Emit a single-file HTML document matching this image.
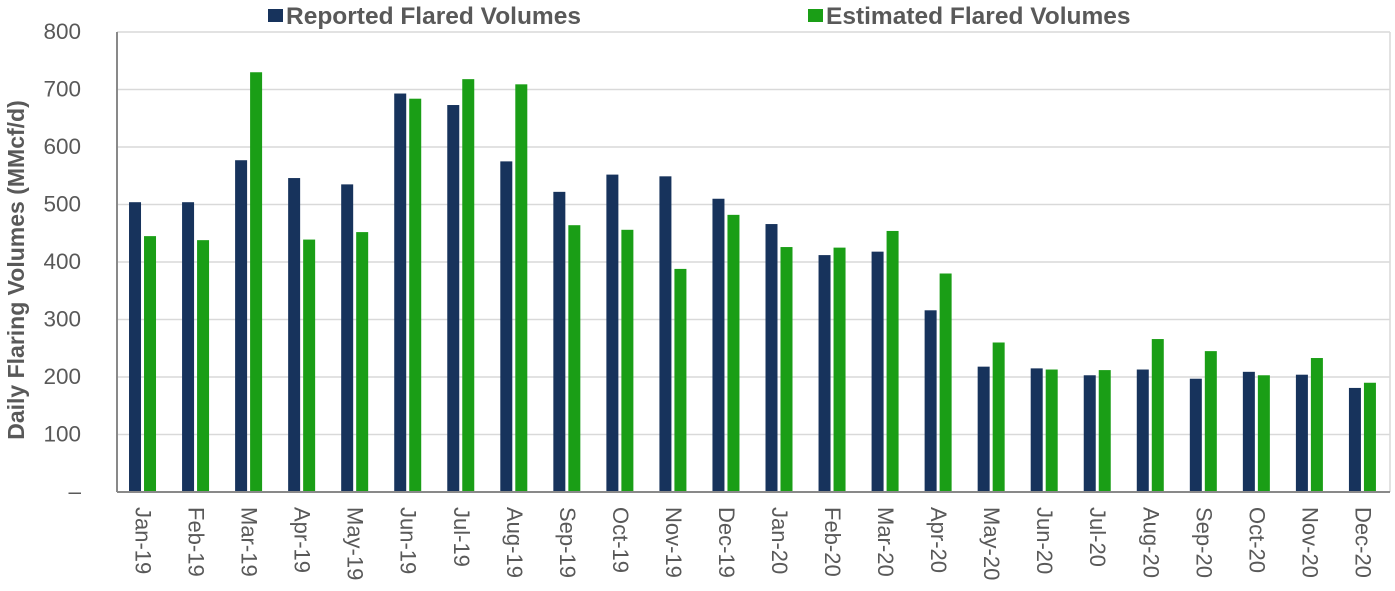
<!DOCTYPE html>
<html><head><meta charset="utf-8"><style>
body{margin:0;background:#fff;}
svg{display:block;font-family:"Liberation Sans",Arial,sans-serif;}
</style></head><body>
<svg width="1395" height="591" viewBox="0 0 1395 591" xmlns="http://www.w3.org/2000/svg">
<g stroke="#d9d9d9" stroke-width="1.5">
<line x1="117" x2="1390" y1="32" y2="32"/>
<line x1="117" x2="1390" y1="89.5" y2="89.5"/>
<line x1="117" x2="1390" y1="147" y2="147"/>
<line x1="117" x2="1390" y1="204.5" y2="204.5"/>
<line x1="117" x2="1390" y1="262" y2="262"/>
<line x1="117" x2="1390" y1="319.5" y2="319.5"/>
<line x1="117" x2="1390" y1="377" y2="377"/>
<line x1="117" x2="1390" y1="434.5" y2="434.5"/>
<line x1="1390" x2="1390" y1="32" y2="492"/>
</g>
<g id="bars"></g>
<line x1="117" x2="117" y1="32" y2="492" stroke="#898989" stroke-width="2"/>
<line x1="117" x2="1390" y1="492" y2="492" stroke="#898989" stroke-width="2"/>
<g font-size="22.5" fill="#595959" text-anchor="end">
<text x="81" y="39">800</text><text x="81" y="96.5">700</text><text x="81" y="154">600</text>
<text x="81" y="211.5">500</text><text x="81" y="269">400</text><text x="81" y="326.5">300</text>
<text x="81" y="384">200</text><text x="81" y="441.5">100</text><text x="81" y="499">–</text>
</g>
<text transform="translate(24,270) rotate(-90)" text-anchor="middle" font-size="23" font-weight="bold" fill="#595959">Daily Flaring Volumes (MMcf/d)</text>
<rect x="268" y="9" width="15" height="13" fill="#17335c"/>
<text x="286" y="24" font-size="24.5" font-weight="bold" fill="#595959">Reported Flared Volumes</text>
<rect x="808" y="9" width="15" height="13" fill="#1a9e16"/>
<text x="826" y="24" font-size="24.5" font-weight="bold" fill="#595959">Estimated Flared Volumes</text>
<g id="labels" font-size="22" fill="#595959"></g>
<script>
var d=[["Jan-19",504,445],["Feb-19",504,438],["Mar-19",577,730],["Apr-19",546,439],["May-19",535,452],["Jun-19",693,684],["Jul-19",673,718],["Aug-19",575,709],["Sep-19",522,464],["Oct-19",552,456],["Nov-19",549,388],["Dec-19",510,482],["Jan-20",466,426],["Feb-20",412,425],["Mar-20",418,454],["Apr-20",316,380],["May-20",218,260],["Jun-20",215,213],["Jul-20",203,212],["Aug-20",213,266],["Sep-20",197,245],["Oct-20",209,203],["Nov-20",204,233],["Dec-20",181,190]];
var ns="http://www.w3.org/2000/svg",b=document.getElementById("bars"),l=document.getElementById("labels");
d.forEach(function(r,i){var c=117+53.04*(i+0.5);
[[r[1],c-14.5,"#17335c"],[r[2],c+0.5,"#1a9e16"]].forEach(function(s){var h=s[0]*0.575,e=document.createElementNS(ns,"rect");
e.setAttribute("x",s[1]);e.setAttribute("y",492-h);e.setAttribute("width",12);e.setAttribute("height",h);e.setAttribute("fill",s[2]);b.appendChild(e);});
var t=document.createElementNS(ns,"text");t.setAttribute("transform","translate("+(c-8)+",507) rotate(90)");t.textContent=r[0];l.appendChild(t);});
</script>
</svg>
</body></html>
